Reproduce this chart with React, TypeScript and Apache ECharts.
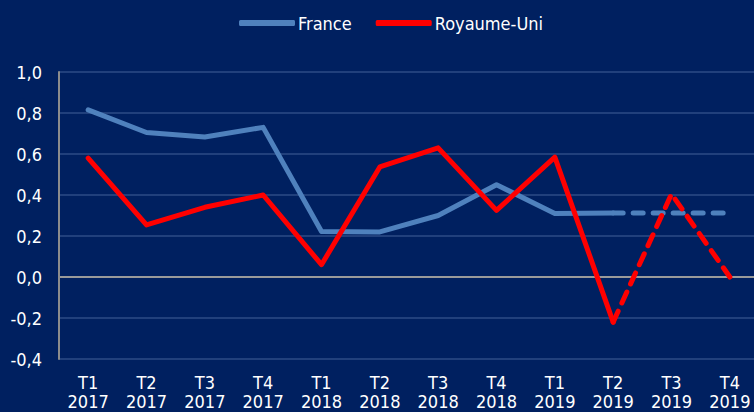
import React, { useEffect, useRef } from "react";
import * as echarts from "echarts";

const categories = [
  "T1\n2017", "T2\n2017", "T3\n2017", "T4\n2017",
  "T1\n2018", "T2\n2018", "T3\n2018", "T4\n2018",
  "T1\n2019", "T2\n2019", "T3\n2019", "T4\n2019",
];
const france = [0.815, 0.705, 0.683, 0.73, 0.222, 0.22, 0.3, 0.45, 0.31, 0.312, 0.312, 0.312];
const uk = [0.58, 0.254, 0.34, 0.4, 0.06, 0.537, 0.63, 0.325, 0.585, -0.22, 0.405, 0.0];
const forecastStart = 9; // index of T2 2019, dashed after this point

const solidPart = (arr: number[]) => arr.map((v, i) => (i <= forecastStart ? v : null));
const dashedPart = (arr: number[]) => arr.map((v, i) => (i >= forecastStart ? v : null));

const FONT = "'DejaVu Sans Condensed', 'DejaVu Sans', sans-serif";
const BLUE = "#4f81bd";
const RED = "#ff0000";
const GRID = "#21407c";

export default function App() {
  const ref = useRef<HTMLDivElement>(null);
  useEffect(() => {
    document.body.style.margin = "0";
    const chart = echarts.init(ref.current!, null, { renderer: "svg" });
    chart.setOption({
      animation: false,
      backgroundColor: "#002060",
      textStyle: { fontFamily: FONT },
      legend: {
        top: 14,
        left: 239,
        padding: 0,
        itemWidth: 56,
        itemHeight: 6,
        itemGap: 24,
        icon: "roundRect",
        data: [
          { name: "France", itemStyle: { color: BLUE } },
          { name: "Royaume-Uni", itemStyle: { color: RED } },
        ],
        textStyle: { color: "#ffffff", fontSize: 18, fontFamily: FONT, padding: [0, 0, 0, -2] },
      },
      grid: { left: 59, top: 72, bottom: 53, width: 700, containLabel: false, outerBoundsMode: "none" },
      xAxis: {
        type: "category",
        data: categories,
        boundaryGap: true,
        axisLine: { show: false },
        axisTick: { show: false },
        axisLabel: {
          interval: 0,
          color: "#ffffff",
          fontSize: 18,
          lineHeight: 19,
          margin: 14,
          fontFamily: FONT,
        },
      },
      yAxis: {
        type: "value",
        min: -0.4,
        max: 1.0,
        interval: 0.2,
        axisLine: { show: true, lineStyle: { color: "#8c8c8c", width: 2 } },
        axisTick: { show: false },
        axisLabel: {
          color: "#ffffff",
          fontSize: 18,
          margin: 17,
          fontFamily: FONT,
          formatter: (v: number) => v.toFixed(1).replace(".", ","),
        },
        splitLine: {
          show: true,
          lineStyle: {
            color: [GRID, GRID, "#9a9a9a", GRID, GRID, GRID, GRID, GRID],
            width: 2,
          },
        },
      },
      series: [
        {
          name: "France",
          type: "line",
          data: solidPart(france),
          showSymbol: false,
          symbol: "none",
          lineStyle: { color: BLUE, width: 5, cap: "round", join: "round" },
          itemStyle: { color: BLUE },
          z: 2,
        },
        {
          name: "France",
          type: "line",
          data: dashedPart(france),
          showSymbol: false,
          symbol: "none",
          lineStyle: { color: BLUE, width: 5, type: [10, 10], cap: "round" },
          itemStyle: { color: BLUE },
          z: 2,
        },
        {
          name: "Royaume-Uni",
          type: "line",
          data: solidPart(uk),
          showSymbol: false,
          symbol: "none",
          lineStyle: { color: RED, width: 5, cap: "round", join: "round" },
          itemStyle: { color: RED },
          z: 3,
        },
        {
          name: "Royaume-Uni",
          type: "line",
          data: dashedPart(uk),
          showSymbol: false,
          symbol: "none",
          lineStyle: { color: RED, width: 5, type: [12, 9], cap: "round" },
          itemStyle: { color: RED },
          z: 3,
        },
      ],
    });
    return () => chart.dispose();
  }, []);
  return <div ref={ref} style={{ width: 754, height: 412 }} />;
}
